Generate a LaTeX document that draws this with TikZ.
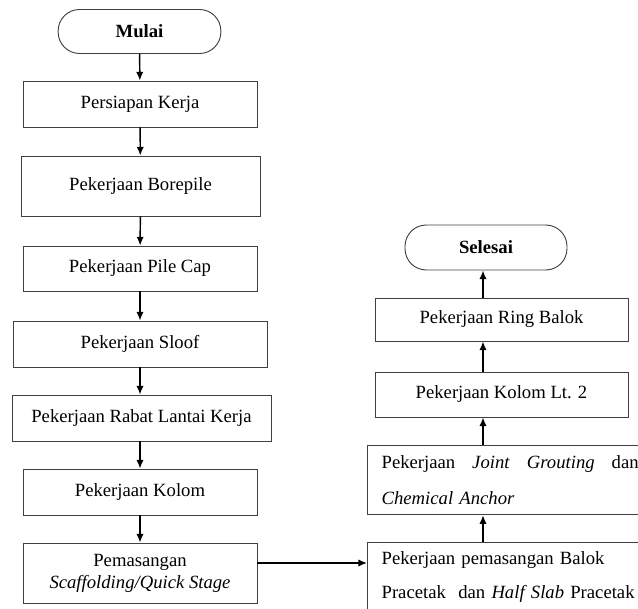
\documentclass[tikz,border=0pt]{standalone}
\usepackage{fontspec}
\setmainfont{Liberation Serif}
\usetikzlibrary{arrows.meta}
\begin{document}
\begin{tikzpicture}[x=0.75pt, y=-0.75pt]
        % Define block styles
        \tikzset{
            terminal/.style = {rectangle, draw=black!75, line width=0.7pt, rounded corners=16pt, minimum width=122pt, minimum height=33pt, font=\fontsize{14}{16}\selectfont\bfseries},
            proses/.style = {rectangle, draw=black!75, line width=0.7pt, minimum width=175.5pt, minimum height=34.5pt, align=center, font=\fontsize{14}{16.5}\selectfont},
            prosesKanan/.style = {rectangle, draw=black!75, line width=0.7pt, anchor=north west, minimum width=214pt, minimum height=52pt, text width=192.75pt, inner xsep=10.5pt, align=left, font=\fontsize{14}{27}\selectfont},
            arrow/.style = {-{Latex[length=6.5pt,width=5.5pt]}, line width=1.1pt}
        }
        \clip (0,0) rectangle (638,609);

        % Nodes, left column
        \node[terminal] (mulai) at (139.5,31.5) {Mulai};
        \node[proses] (persiapan) at (140,104) {Persiapan Kerja};
        \node[proses, minimum width=179.25pt, minimum height=45pt] (borepile) at (140.5,186) {Pekerjaan Borepile};
        \node[proses, minimum height=33.75pt] (pilecap) at (140,268.5) {Pekerjaan Pile Cap};
        \node[proses, minimum width=190.5pt] (sloof) at (140,344) {Pekerjaan Sloof};
        \node[proses, minimum width=194.25pt] (rabat) at (141.5,418) {Pekerjaan Rabat Lantai Kerja};
        \node[proses] (kolom) at (140,492) {Pekerjaan Kolom};
        \node[proses, minimum height=45pt] (scaffolding) at (140,573) {Pemasangan\\\textit{Scaffolding/Quick Stage}};

        % Nodes, right column
        \node[terminal, minimum width=121.5pt, minimum height=33.75pt] (selesai) at (486,247.5) {Selesai};
        \node[proses, minimum width=189.75pt, minimum height=32.25pt] (ringbalok) at (501.5,319.5) {Pekerjaan Ring Balok};
        \node[proses, minimum width=189.75pt, minimum height=33.75pt] (kolomlt) at (501.5,394.5) {Pekerjaan Kolom Lt. 2};
        \node[prosesKanan] (grouting) at (367,445) {\makebox[\linewidth][s]{Pekerjaan\hfill\textit{Joint}\hfill\textit{Grouting}\hfill dan}\\\textit{Chemical Anchor}};
        \node[prosesKanan, font=\fontsize{14}{25}\selectfont] (balok) at (367,542) {Pekerjaan pemasangan Balok\\Pracetak~ dan \textit{Half Slab} Pracetak};

        % Arrows
        \draw[arrow] (mulai) -- (persiapan);
        \draw[arrow] (persiapan) -- (borepile);
        \draw[arrow] (borepile) -- (pilecap);
        \draw[arrow] (pilecap) -- (sloof);
        \draw[arrow] (sloof) -- (rabat.north -| sloof);
        \draw[arrow] (rabat.south -| kolom) -- (kolom);
        \draw[arrow] (kolom) -- (scaffolding);
        \coordinate (hubung) at (0,563);
        \draw[arrow] (scaffolding.east |- hubung) -- (balok.west |- hubung);
        \coordinate (kanan) at (483,0);
        \draw[arrow] (balok.north -| kanan) -- (grouting.south -| kanan);
        \draw[arrow] (grouting.north -| kanan) -- (kolomlt.south -| kanan);
        \draw[arrow] (kolomlt.north -| kanan) -- (ringbalok.south -| kanan);
        \draw[arrow] (ringbalok.north -| kanan) -- (selesai.south -| kanan);
    \end{tikzpicture}
\end{document}
